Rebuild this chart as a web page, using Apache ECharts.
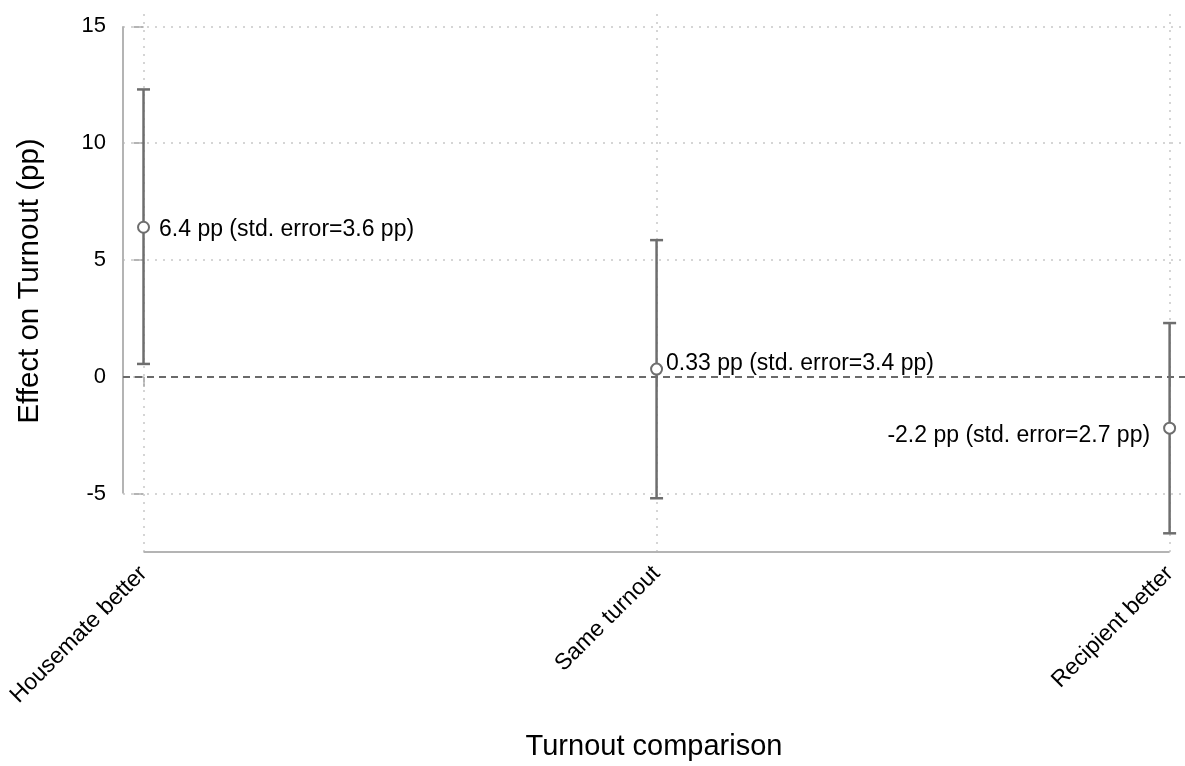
<!DOCTYPE html>
<html>
<head>
<meta charset="utf-8">
<script src="https://cdn.jsdelivr.net/npm/echarts@6/dist/echarts.min.js"></script>
<style>
html,body{margin:0;padding:0;background:#fff;}
#chart{width:1185px;height:766px;}
</style>
</head>
<body>
<div id="chart"></div>
<script>
// ---- data ----
const categories = ['Housemate better', 'Same turnout', 'Recipient better'];
const estimates = [6.4, 0.33, -2.2];
const ciLow = [0.55, -5.2, -6.7];
const ciHigh = [12.3, 5.85, 2.3];
const estLabels = ['6.4', '0.33', '-2.2'];
const stdErrors = ['3.6', '3.4', '2.7'];
const yTicks = [-5, 0, 5, 10, 15];
const xTicks = [0, 1, 2];

// ---- layout / style ----
const X_MIN = -0.04, X_MAX = 2.03;
const Y_MIN = -7.5, Y_MAX = 15.7;
const FONT = '"Liberation Sans", Arial, sans-serif';
const BAR_COLOR = '#6e6e6e';
const AXIS_COLOR = '#b4b4b4';
const GRID_COLOR = '#c8c8c8';

const labelTexts = estimates.map((v, i) => estLabels[i] + ' pp (std. error=' + stdErrors[i] + ' pp)');
const labelStyles = [
  { position: 'right', distance: 9, offset: [0, 2] },
  { position: 'right', distance: 3, offset: [0, -5] },
  { position: 'left', distance: 13, offset: [0, 7] }
];

const errData = categories.map((c, i) => [i, ciLow[i], ciHigh[i]]);
const pointData = categories.map((c, i) => ({
  value: [i, estimates[i]],
  label: Object.assign({ show: true, formatter: labelTexts[i], fontSize: 23, color: '#000', fontFamily: FONT }, labelStyles[i])
}));

const gridLines = [];
yTicks.filter(v => v !== 0).forEach(v => gridLines.push({ yAxis: v }));
xTicks.forEach(v => gridLines.push({ xAxis: v }));

const chart = echarts.init(document.getElementById('chart'), null, { renderer: 'canvas' });
chart.setOption({
  animation: false,
  backgroundColor: '#fff',
  textStyle: { fontFamily: FONT },
  grid: { left: 123, right: 0, top: 10, bottom: 207, containLabel: false },
  xAxis: {
    type: 'value', min: X_MIN, max: X_MAX,
    axisLine: { show: false },
    splitLine: { show: false },
    axisTick: { show: true, customValues: xTicks, length: 10, lineStyle: { color: AXIS_COLOR, width: 2 } },
    axisLabel: {
      show: true, customValues: xTicks, rotate: 45, margin: 18,
      fontSize: 23, color: '#000', fontFamily: FONT,
      formatter: v => categories[Math.round(v)] || ''
    },
    name: 'Turnout comparison', nameLocation: 'middle', nameGap: 180,
    nameTextStyle: { fontSize: 29, color: '#000', fontFamily: FONT }
  },
  yAxis: {
    type: 'value', min: Y_MIN, max: Y_MAX,
    axisLine: { show: false },
    splitLine: { show: false },
    axisTick: { show: true, customValues: yTicks, length: 10, lineStyle: { color: AXIS_COLOR, width: 2 } },
    axisLabel: { show: true, customValues: yTicks, margin: 17, fontSize: 22, color: '#000', fontFamily: FONT },
    name: 'Effect on Turnout (pp)', nameLocation: 'middle', nameGap: 78,
    nameTextStyle: { fontSize: 29.5, color: '#000', fontFamily: FONT }
  },
  series: [
    {
      type: 'line', data: [], silent: true, z: 1,
      markLine: {
        silent: true, symbol: 'none', label: { show: false }, z: 1,
        lineStyle: { color: GRID_COLOR, type: [2, 6], width: 1.5 },
        data: gridLines
      }
    },
    {
      type: 'line', data: [], silent: true, z: 1,
      markLine: {
        silent: true, symbol: 'none', label: { show: false }, z: 1,
        data: [
          [{ coord: [X_MIN, yTicks[yTicks.length - 1]] }, { coord: [X_MIN, yTicks[0]] }],
          [{ coord: [xTicks[0], Y_MIN] }, { coord: [xTicks[xTicks.length - 1], Y_MIN] }]
        ],
        lineStyle: { color: AXIS_COLOR, type: 'solid', width: 2 }
      }
    },
    {
      type: 'line', data: [], silent: true, z: 2,
      markLine: {
        silent: true, symbol: 'none', label: { show: false }, z: 2,
        lineStyle: { color: '#6a6a6a', type: [7, 5], width: 1.8 },
        data: [{ yAxis: 0 }]
      }
    },
    {
      type: 'custom',
      data: errData,
      renderItem: function (params, api) {
        const x = api.value(0);
        const lo = api.coord([x, api.value(1)]);
        const hi = api.coord([x, api.value(2)]);
        const cap = 6.5;
        const style = { stroke: BAR_COLOR, lineWidth: 2.5, fill: null };
        return {
          type: 'group',
          children: [
            { type: 'line', shape: { x1: hi[0], y1: hi[1], x2: lo[0], y2: lo[1] }, style: style },
            { type: 'line', shape: { x1: hi[0] - cap, y1: hi[1], x2: hi[0] + cap, y2: hi[1] }, style: style },
            { type: 'line', shape: { x1: lo[0] - cap, y1: lo[1], x2: lo[0] + cap, y2: lo[1] }, style: style }
          ]
        };
      },
      z: 6
    },
    {
      type: 'scatter',
      data: pointData,
      symbol: 'circle', symbolSize: 11,
      itemStyle: { color: '#fff', borderColor: BAR_COLOR, borderWidth: 2, opacity: 1 },
      label: { fontSize: 23, color: '#000', fontFamily: FONT },
      z: 7
    }
  ]
});
</script>
</body>
</html>
